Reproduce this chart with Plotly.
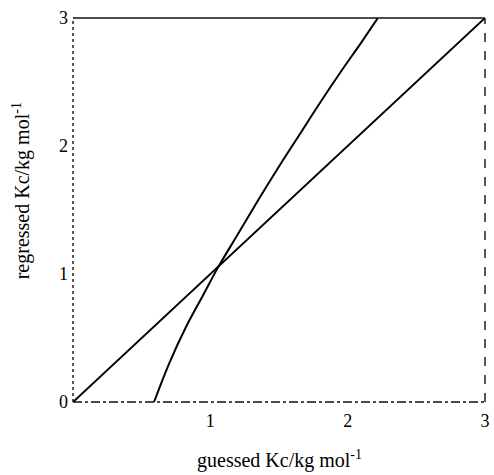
import plotly.graph_objects as go

# Identity line: regressed equals guessed
identity_x = [0, 3]
identity_y = [0, 3]

# Regressed Kc as a function of the guessed Kc
guessed = [0.59, 0.70, 0.82, 0.95, 1.05, 1.20, 1.35, 1.50, 1.65, 1.80, 1.95, 2.10, 2.22]
regressed = [0.0, 0.30, 0.58, 0.84, 1.04, 1.31, 1.58, 1.84, 2.09, 2.34, 2.58, 2.81, 3.0]

x_ticks = [1, 2, 3]
y_ticks = [0, 1, 2, 3]

serif = "Liberation Serif, Times New Roman, serif"

fig = go.Figure()
fig.add_trace(go.Scatter(x=identity_x, y=identity_y, mode="lines",
                         line=dict(color="black", width=2), showlegend=False))
fig.add_trace(go.Scatter(x=guessed, y=regressed, mode="lines",
                         line=dict(color="black", width=2, shape="spline", smoothing=1.0),
                         showlegend=False))

# Frame around the plotting area, drawn with broken strokes
frame = [
    dict(x0=0, y0=1, x1=1, y1=1, dash="solid"),
    dict(x0=0, y0=0, x1=0, y1=1, dash="dot"),
    dict(x0=0, y0=0, x1=1, y1=0, dash="dashdot"),
    dict(x0=1, y0=0, x1=1, y1=1, dash="dash"),
]
for side in frame:
    fig.add_shape(type="line", xref="paper", yref="paper",
                  x0=side["x0"], y0=side["y0"], x1=side["x1"], y1=side["y1"],
                  line=dict(color="#111", width=1.4, dash=side["dash"]))

fig.update_layout(
    width=494, height=475,
    margin=dict(l=73, r=4, t=18, b=73),
    plot_bgcolor="white", paper_bgcolor="white",
    font=dict(family=serif, size=18, color="black"),
    xaxis=dict(range=[0, 3], tickvals=x_ticks, ticktext=[str(v) for v in x_ticks],
               showgrid=False, zeroline=False, showline=False, ticks="",
               ticklabelstandoff=6, ticklabeloverflow="allow"),
    yaxis=dict(range=[0, 3], tickvals=y_ticks, ticktext=[str(v) for v in y_ticks],
               showgrid=False, zeroline=False, showline=False, ticks="",
               ticklabelstandoff=4, ticklabeloverflow="allow"),
    annotations=[
        dict(text="guessed Kc/kg mol<sup>-1</sup>", xref="paper", yref="paper",
             x=0.5, y=-0.15, xanchor="center", yanchor="middle", showarrow=False,
             font=dict(family=serif, size=20)),
        dict(text="regressed Kc/kg mol<sup>-1</sup>", xref="paper", yref="paper",
             x=-0.125, y=0.55, xanchor="center", yanchor="middle", showarrow=False,
             textangle=-90, font=dict(family=serif, size=20)),
    ],
)

fig.write_html("out.html")
